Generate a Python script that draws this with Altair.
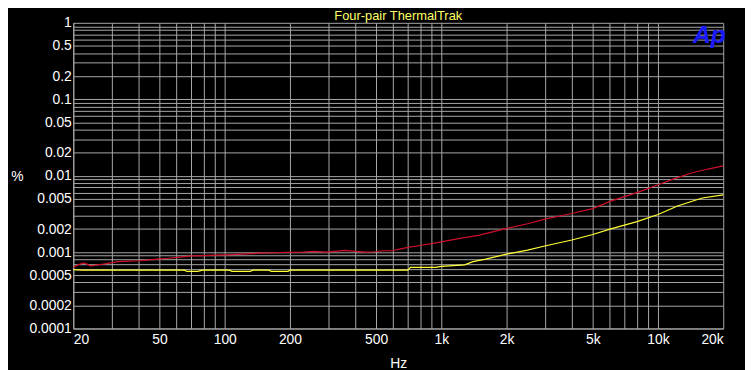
import altair as alt
import pandas as pd

# ---- data ----
red_freq = [20, 21, 22.3, 23, 24, 26, 28, 32.2, 36, 40, 45, 49, 55, 62, 71, 80, 90, 102, 120,
            146, 170, 192, 230, 260, 293, 330, 361, 400, 450, 494, 540, 594, 650, 700, 800, 900,
            1000, 1200, 1500, 2000, 2500, 3000, 4000, 5000, 6000, 8000, 10000, 12000, 14400,
            17000, 20000]
red_vals = [0.00063, 0.00068, 0.00072, 0.00070, 0.00066, 0.00068, 0.00070, 0.00075, 0.00076,
            0.00077, 0.00079, 0.00081, 0.00083, 0.00086, 0.00089, 0.00090, 0.00091, 0.00092,
            0.00094, 0.00097, 0.00098, 0.00099, 0.00100, 0.00102, 0.00100, 0.00103, 0.00105,
            0.00102, 0.00100, 0.00101, 0.00104, 0.00104, 0.00110, 0.00115, 0.00122, 0.00129,
            0.00136, 0.00150, 0.00167, 0.00204, 0.00235, 0.00270, 0.00320, 0.00370, 0.00460,
            0.00600, 0.00760, 0.00920, 0.01090, 0.01220, 0.01340]

yellow_freq = [20, 22, 24, 30, 40, 50, 60, 65, 67, 75, 79, 90, 105, 108, 131, 135, 160, 164,
               196, 200, 300, 400, 500, 600, 700, 720, 940, 1000, 1280, 1400, 1600, 2000, 2500,
               3000, 4000, 5000, 6000, 8000, 10000, 12300, 16000, 20000]
yellow_vals = [0.00059, 0.00058, 0.00058, 0.00058, 0.00058, 0.00058, 0.00058, 0.00058, 0.00056,
               0.00056, 0.00058, 0.00058, 0.00058, 0.00056, 0.00056, 0.00058, 0.00058, 0.00056,
               0.00056, 0.00058, 0.00058, 0.00058, 0.00058, 0.00058, 0.00058, 0.00063, 0.00063,
               0.00065, 0.00068, 0.00075, 0.00081, 0.00094, 0.00106, 0.00120, 0.00144, 0.00170,
               0.00200, 0.00250, 0.00310, 0.00400, 0.00510, 0.00560]

x_labels = {20: "20", 50: "50", 100: "100", 200: "200", 500: "500", 1000: "1k",
            2000: "2k", 5000: "5k", 10000: "10k", 20000: "20k"}
y_labels = {1: "1", 0.5: "0.5", 0.2: "0.2", 0.1: "0.1", 0.05: "0.05", 0.02: "0.02",
            0.01: "0.01", 0.005: "0.005", 0.002: "0.002", 0.001: "0.001",
            0.0005: "0.0005", 0.0002: "0.0002", 0.0001: "0.0001"}

title_text = ["Four-pair ThermalTrak"]
logo_text = ["Ap"]

# grid positions (1..9 per decade)
x_grid = [m * 10 ** e for e in range(1, 5) for m in range(1, 10) if 20 <= m * 10 ** e <= 20000]
y_grid = [round(m * 10.0 ** e, 6) for e in range(-4, 0) for m in range(1, 10)] + [1]


def label_expr(mapping):
    expr = "''"
    for v, s in mapping.items():
        expr = f"abs(datum.value - {v}) < {v}*1e-6 ? '{s}' : ({expr})"
    return expr


df = pd.concat([
    pd.DataFrame({"f": red_freq, "v": red_vals, "s": "red"}),
    pd.DataFrame({"f": yellow_freq, "v": yellow_vals, "s": "yellow"}),
])

FONT = "Liberation Sans"

x_enc = alt.X("f:Q", scale=alt.Scale(type="log", domain=[20, 20000], nice=False),
              axis=alt.Axis(values=x_grid, labelExpr=label_expr(x_labels), ticks=False,
                            grid=True, gridColor="#a8a8a8", gridWidth=1, domainColor="#a8a8a8",
                            labelColor="white", labelFont=FONT, labelFontSize=14,
                            labelPadding=4, labelFlush=True, labelOverlap=False,
                            title="Hz", titleColor="white", titleFont=FONT, titleFontSize=14,
                            titleFontWeight="normal", titleY=35, titleBaseline="middle"))
y_enc = alt.Y("v:Q", scale=alt.Scale(type="log", domain=[0.0001, 1], nice=False),
              axis=alt.Axis(values=y_grid, labelExpr=label_expr(y_labels), ticks=False,
                            grid=True, gridColor="#a8a8a8", gridWidth=1, domainColor="#a8a8a8",
                            labelColor="white", labelFont=FONT, labelFontSize=14,
                            labelPadding=2, labelOverlap=False,
                            title="%", titleColor="white", titleFont=FONT, titleFontSize=14,
                            titleFontWeight="normal", titleAngle=0, titleX=-57, titleY=155,
                            titleAlign="center", titleBaseline="middle"))

lines = alt.Chart(df).mark_line(strokeWidth=1.2, interpolate="linear").encode(
    x=x_enc, y=y_enc,
    color=alt.Color("s:N", scale=alt.Scale(domain=["red", "yellow"],
                                           range=["#d0102a", "#ffff33"]), legend=None),
    detail="s:N",
)

title = alt.Chart(pd.DataFrame({"t": title_text})).mark_text(
    font=FONT, fontSize=13, color="#ffff66", align="center", baseline="middle"
).encode(text="t:N", x=alt.value(328.5), y=alt.value(-7))

logo = alt.Chart(pd.DataFrame({"t": logo_text})).mark_text(
    font=FONT, fontSize=25, fontWeight="bold", fontStyle="italic", color="#1a1aff",
    align="center", baseline="middle"
).encode(text="t:N", x=alt.value(643), y=alt.value(12))

chart = alt.layer(lines, title, logo).properties(
    width=657, height=309,
    autosize=alt.AutoSizeParams(type="none"),
    padding={"left": 66, "top": 13, "right": 22, "bottom": 40},
).configure(background="black").configure_view(stroke=None)

chart.save("out.html", embed_options={"renderer": "svg", "actions": False})
